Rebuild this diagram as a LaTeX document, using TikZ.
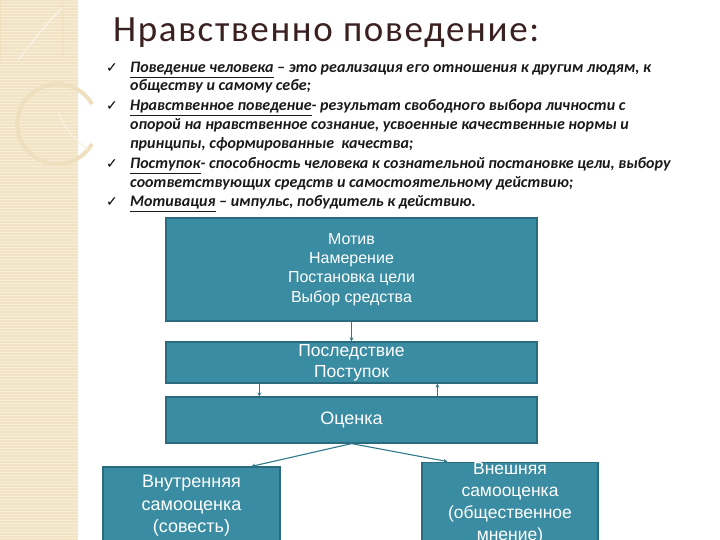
\documentclass[tikz,border=0pt]{standalone}
\usepackage{fontspec}
\setmainfont{Carlito}
\newfontfamily\boxfont{Liberation Sans}
\newfontfamily\symfont{DejaVu Sans}
\newfontfamily\titlefont[LetterSpace=4.5]{Carlito}
\usetikzlibrary{arrows.meta}
\definecolor{stripbg}{HTML}{F1E3C3}
\definecolor{stripln}{HTML}{F7EEDA}
\definecolor{stripdec}{HTML}{EEE0BE}
\definecolor{boxfill}{HTML}{3A8CA2}
\definecolor{boxedge}{HTML}{2A6C7E}
\definecolor{titlecol}{HTML}{3A2020}
\definecolor{conncol}{HTML}{2E788A}
\begin{document}
\begin{tikzpicture}[x=1pt,y=-1pt,
  bline/.style={anchor=base west, inner sep=0pt, text=black!90,
    font=\fontsize{16}{19}\selectfont\bfseries\itshape},
  tick/.style={anchor=base west, inner sep=0pt, font=\symfont\fontsize{14}{14}\selectfont},
  box/.style={draw=boxedge, line width=1.2pt, fill=boxfill, text=white, inner sep=0pt, align=center},
  conn/.style={draw=conncol, line width=1.1pt},
  tip/.style={-{Stealth[length=4pt,width=4pt]}}
]
\useasboundingbox (0,0) rectangle (720,540);
\clip (0,0) rectangle (720,540);
% left decorative strip
\fill[stripbg] (0,0) rectangle (78,540);
\foreach \y in {1,4,...,540} {\draw[stripln, line width=0.8pt] (0,\y) -- (78,\y);}
\draw[stripdec, line width=1pt] (0,0) rectangle (62,60);
\draw[white!60!stripbg, line width=1.2pt] (62,8) .. controls (45,25) and (30,45) .. (18,60);
\draw[stripdec, line width=4pt] (92,104) arc (-30:-330:40);
\draw[white!50!stripbg, line width=1.2pt] (88,150) .. controls (70,135) and (62,125) .. (58,112);

% title
\node[anchor=base west, inner sep=0pt, text=titlecol, font=\titlefont\fontsize{37}{40}\selectfont] (title) at (113,42) {Нравственно поведение:};

% bullets
\node[tick] (c1) at (106,73) {✓};
\node[bline] (l1) at (130,73) {\underline{Поведение человека} – это реализация его отношения к другим людям, к};
\node[bline] (l2) at (130,91) {обществу и самому себе;};
\node[tick] (c2) at (106,111) {✓};
\node[bline] (l3) at (130,111) {\underline{Нравственное поведение}- результат свободного выбора личности с};
\node[bline] (l4) at (130,130) {опорой на нравственное сознание, усвоенные качественные нормы и};
\node[bline] (l5) at (130,149) {принципы, сформированные\ \ качества;};
\node[tick] (c3) at (106,169) {✓};
\node[bline] (l6) at (130,169) {\underline{Поступок}- способность человека к сознательной постановке цели, выбору};
\node[bline] (l7) at (130,188) {соответствующих средств и самостоятельному действию;};
\node[tick] (c4) at (106,207) {✓};
\node[bline] (l8) at (130,207) {\underline{Мотивация} – импульс, побудитель к действию.};

% boxes
\node[box, minimum width=371pt, minimum height=103pt, font=\boxfont\fontsize{16}{19.3}\selectfont] (b1) at (351.5,269.5)
  {Мотив\\Намерение\\Постановка цели\\Выбор средства};
\node[box, minimum width=371pt, minimum height=41pt, font=\boxfont\fontsize{17.5}{21}\selectfont] (b2) at (351.5,362.5)
  {Последствие\\Поступок};
\node[box, minimum width=371pt, minimum height=46pt, font=\boxfont\fontsize{18}{21}\selectfont] (b3) at (351.5,420)
  {Оценка};
\node[box, minimum width=177pt, minimum height=78pt, font=\boxfont\fontsize{18}{22.5}\selectfont] (b4) at (191.5,506)
  {Внутренняя\\самооценка\\(совесть)};
\node[box, minimum width=176pt, minimum height=80pt, font=\boxfont\fontsize{17.5}{22}\selectfont] (b5) at (510,503)
  {Внешняя\\самооценка\\(общественное\\мнение)};

% connectors
\draw[conn, tip] (b1.south) -- (b2.north);
\draw[conn, tip] ([xshift=94pt]b2.south west) -- ([xshift=94pt]b3.north west);
\draw[conn, tip] ([xshift=272pt]b3.north west) -- ([xshift=272pt]b2.south west);
\draw[conn, tip] (b3.south) -- ([xshift=149pt]b4.north west);
\draw[conn, tip] (b3.south) -- ([xshift=26pt]b5.north west);
\end{tikzpicture}
\end{document}
